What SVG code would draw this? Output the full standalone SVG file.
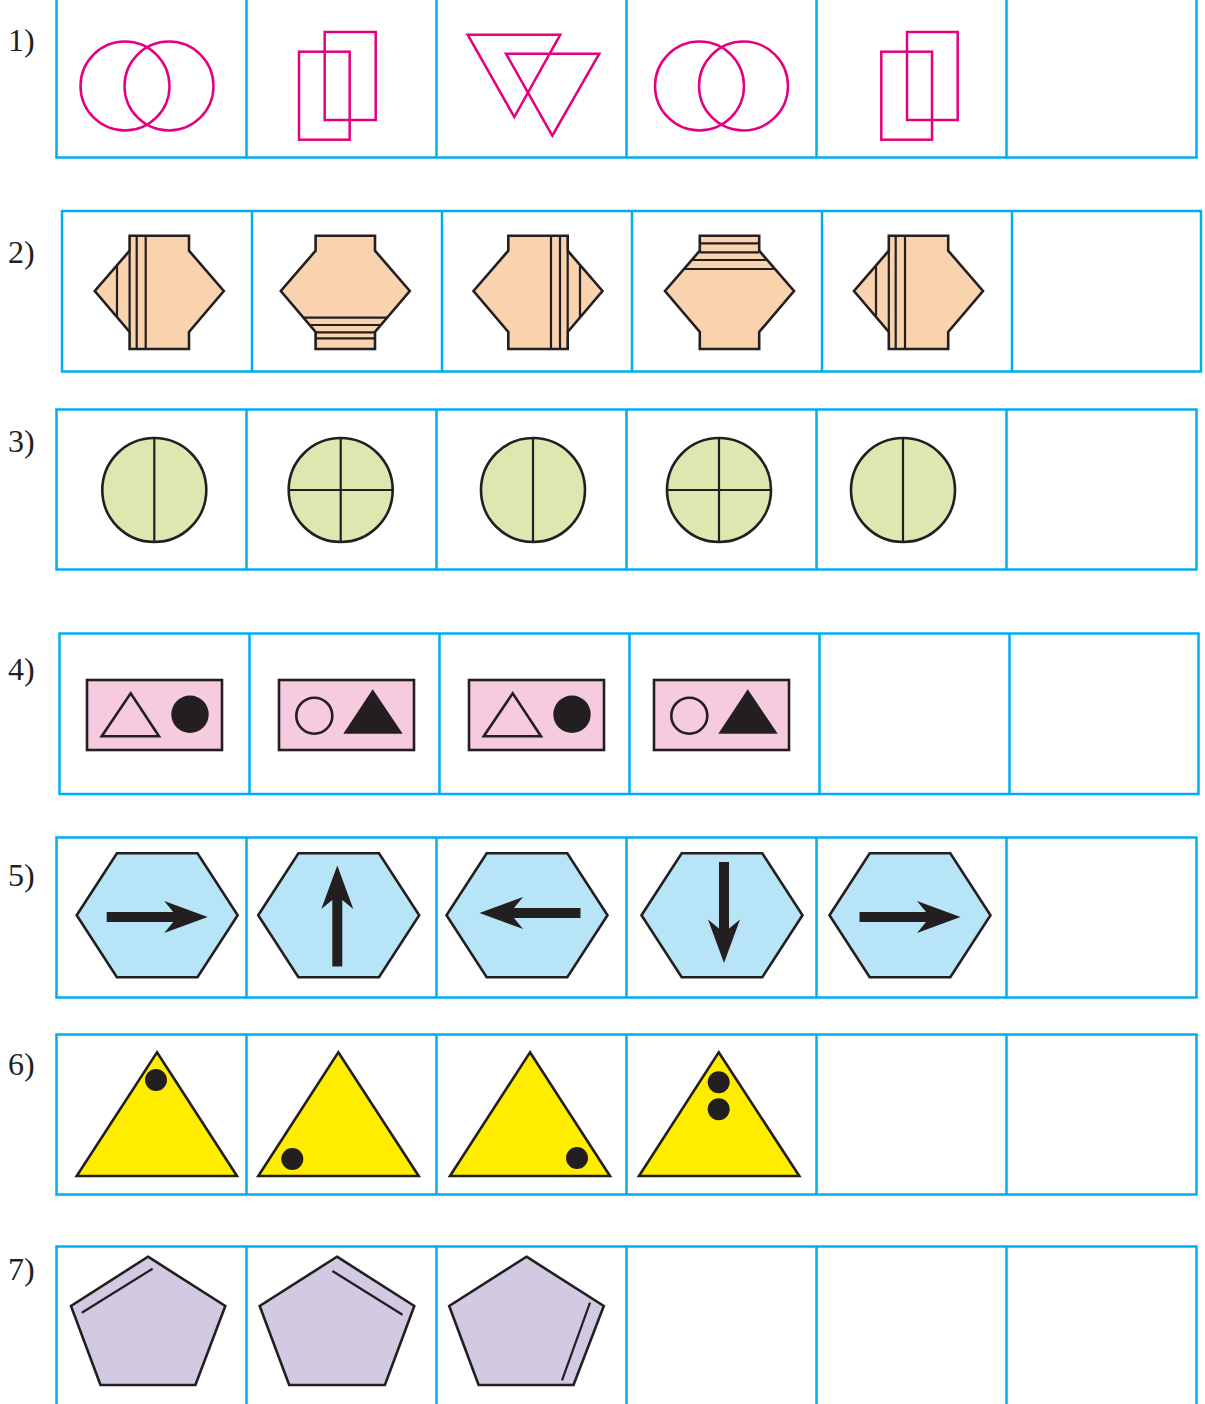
<svg xmlns="http://www.w3.org/2000/svg" xmlns:xlink="http://www.w3.org/1999/xlink" width="1205" height="1404" viewBox="0 0 1205 1404">
<style>
.grid{fill:none;stroke:#00aeef;stroke-width:2.5}
.lbl{font-family:"Liberation Serif","Times New Roman",serif;font-size:32px;fill:#231f20}
.mag{fill:none;stroke:#e5007d;stroke-width:2.5}
.ol{stroke:#231f20;stroke-width:2.6;stroke-linejoin:miter}
.ln{stroke:#231f20;stroke-width:2.2;fill:none}
.peach{fill:#f9d2ae}
.green{fill:#dce8b0}
.pink{fill:#f7cbdf}
.blue{fill:#b8e4f7}
.yellow{fill:#ffed00}
.lav{fill:#d2c9e2}
.blk{fill:#231f20}
</style>
<defs>
<path id="arrow" d="M-50.5,-5 H16 L7,-16 L50.5,0 L7,16 L16,5 H-50.5 Z" fill="#231f20"/>
<path id="vase" d="M-29.7,235.7 H29.7 V250.7 L64.5,291 L29.7,332 V349 H-29.7 V332 L-64.5,291 L-29.7,250.7 Z" class="peach ol"/>
<polygon id="hex" points="-80.5,0 -40.3,-62 40.3,-62 80.5,0 40.3,62 -40.3,62" class="blue ol"/>
</defs>

<g id="grids">
<g id="grid1" class="grid"><rect x="56.5" y="-5" width="1140" height="162.5"/><path d="M246.5,0V157.5M436.5,0V157.5M626.5,0V157.5M816.5,0V157.5M1006.5,0V157.5"/></g>
<g id="grid2" class="grid"><rect x="62" y="211" width="1139" height="160.5"/><path d="M252,211V371.5M442,211V371.5M632,211V371.5M822,211V371.5M1012,211V371.5"/></g>
<g id="grid3" class="grid"><rect x="56.5" y="409.5" width="1140" height="160"/><path d="M246.5,409.5V569.5M436.5,409.5V569.5M626.5,409.5V569.5M816.5,409.5V569.5M1006.5,409.5V569.5"/></g>
<g id="grid4" class="grid"><rect x="59.5" y="633.5" width="1139" height="160.5"/><path d="M249.5,633.5V794M439.5,633.5V794M629.5,633.5V794M819.5,633.5V794M1009.5,633.5V794"/></g>
<g id="grid5" class="grid"><rect x="56.5" y="837.5" width="1140" height="160"/><path d="M246.5,837.5V997.5M436.5,837.5V997.5M626.5,837.5V997.5M816.5,837.5V997.5M1006.5,837.5V997.5"/></g>
<g id="grid6" class="grid"><rect x="56.5" y="1034.5" width="1140" height="160"/><path d="M246.5,1034.5V1194.5M436.5,1034.5V1194.5M626.5,1034.5V1194.5M816.5,1034.5V1194.5M1006.5,1034.5V1194.5"/></g>
<g id="grid7" class="grid"><rect x="56.5" y="1246.5" width="1140" height="170"/><path d="M246.5,1246.5V1404M436.5,1246.5V1404M626.5,1246.5V1404M816.5,1246.5V1404M1006.5,1246.5V1404"/></g>
</g>

<g id="labels">
<text class="lbl" x="8" y="51">1)</text>
<text class="lbl" x="8" y="263">2)</text>
<text class="lbl" x="8" y="452">3)</text>
<text class="lbl" x="8" y="680">4)</text>
<text class="lbl" x="8" y="886">5)</text>
<text class="lbl" x="8" y="1075">6)</text>
<text class="lbl" x="8" y="1280">7)</text>
</g>

<g id="row1">
<g id="r1c1" class="mag"><circle cx="125" cy="86" r="44.5"/><circle cx="169" cy="86" r="44.5"/></g>
<g id="r1c2" class="mag"><rect x="324.7" y="32" width="51" height="88"/><rect x="299" y="51.7" width="50.7" height="88"/></g>
<g id="r1c3" class="mag"><polygon points="467.7,34.7 560.3,34.7 514.3,117"/><polygon points="506,53.7 599.3,53.7 552.3,135.7"/></g>
<g id="r1c4" class="mag"><circle cx="699.5" cy="86" r="44.5"/><circle cx="743.5" cy="86" r="44.5"/></g>
<g id="r1c5" class="mag"><rect x="907" y="32" width="50.7" height="88"/><rect x="881.3" y="51.7" width="50.7" height="88"/></g>
</g>

<g id="row2">
<g id="r2c1" transform="translate(159.3,0)"><use xlink:href="#vase"/>
<path class="ln" d="M-29.7,250.7V332M-22.6,235.7V349M-13.6,235.7V349M-42.3,265.3V317.2"/></g>
<g id="r2c2" transform="translate(345.3,0)"><use xlink:href="#vase"/>
<path class="ln" d="M-41.8,317.7H41.8M-35.6,325H35.6M-29.7,332.3H29.7M-29.7,338.3H29.7"/></g>
<g id="r2c3" transform="translate(538,0)"><use xlink:href="#vase"/>
<path class="ln" d="M29.7,250.7V332M22,235.7V349M13,235.7V349M42,265.3V317.2"/></g>
<g id="r2c4" transform="translate(729.5,0)"><use xlink:href="#vase"/>
<path class="ln" d="M-29.7,243.3H29.7M-29.7,252.3H29.7M-37.7,260H37.7M-45.5,269H45.5"/></g>
<g id="r2c5" transform="translate(918.5,0)"><use xlink:href="#vase"/>
<path class="ln" d="M-29.7,250.7V332M-22.8,235.7V349M-13.5,235.7V349M-42.5,265.3V317.2"/></g>
</g>

<g id="row3">
<g id="r3c1"><circle cx="154.3" cy="490" r="52" class="green ol"/><path class="ln" d="M154.3,438V542"/></g>
<g id="r3c2"><circle cx="340.7" cy="490" r="52" class="green ol"/><path class="ln" d="M340.7,438V542M288.7,490H392.7"/></g>
<g id="r3c3"><circle cx="533" cy="490" r="52" class="green ol"/><path class="ln" d="M533,438V542"/></g>
<g id="r3c4"><circle cx="719" cy="490" r="52" class="green ol"/><path class="ln" d="M719,438V542M667,490H771"/></g>
<g id="r3c5"><circle cx="903" cy="490" r="52" class="green ol"/><path class="ln" d="M903,438V542"/></g>
</g>

<g id="row4">
<g id="r4c1"><rect x="87" y="680" width="135" height="70" class="pink ol"/><polygon points="101.7,736.3 130.7,693.3 159,736.3" fill="none" class="ol"/><circle cx="190" cy="714.3" r="18.7" class="blk"/></g>
<g id="r4c2"><rect x="279" y="680" width="135" height="70" class="pink ol"/><circle cx="314.3" cy="715.7" r="18" fill="none" class="ol"/><polygon points="343.3,733.7 372.7,689.3 402.7,733.7" class="blk"/></g>
<g id="r4c3"><rect x="469" y="680" width="135" height="70" class="pink ol"/><polygon points="483.7,736.3 512.7,693.3 541,736.3" fill="none" class="ol"/><circle cx="572" cy="714.3" r="18.7" class="blk"/></g>
<g id="r4c4"><rect x="654" y="680" width="135" height="70" class="pink ol"/><circle cx="689.3" cy="715.7" r="18" fill="none" class="ol"/><polygon points="718.3,733.7 747.7,689.3 777.7,733.7" class="blk"/></g>
</g>

<g id="row5">
<g id="r5c1"><use xlink:href="#hex" transform="translate(157.2,915.3)"/><use xlink:href="#arrow" transform="translate(157.2,917)"/></g>
<g id="r5c2"><use xlink:href="#hex" transform="translate(338.7,915.3)"/><use xlink:href="#arrow" transform="translate(337.3,916) rotate(-90)"/></g>
<g id="r5c3"><use xlink:href="#hex" transform="translate(527,915.3)"/><use xlink:href="#arrow" transform="translate(530,913) rotate(180)"/></g>
<g id="r5c4"><use xlink:href="#hex" transform="translate(722,915.3)"/><use xlink:href="#arrow" transform="translate(724,912.5) rotate(90)"/></g>
<g id="r5c5"><use xlink:href="#hex" transform="translate(910,915.3)"/><use xlink:href="#arrow" transform="translate(910,917)"/></g>
</g>

<g id="row6">
<g id="r6c1"><polygon points="157,1052.3 237,1176 76.7,1176" class="yellow ol"/><circle cx="156" cy="1080" r="11" class="blk"/></g>
<g id="r6c2"><polygon points="338.3,1052.3 418.7,1176 258.3,1176" class="yellow ol"/><circle cx="292.3" cy="1159" r="11" class="blk"/></g>
<g id="r6c3"><polygon points="530,1052.3 610,1176 450,1176" class="yellow ol"/><circle cx="577" cy="1158" r="11" class="blk"/></g>
<g id="r6c4"><polygon points="718.7,1052.3 799.3,1176 639,1176" class="yellow ol"/><circle cx="718.7" cy="1082.3" r="11" class="blk"/><circle cx="718.7" cy="1109.3" r="11" class="blk"/></g>
</g>

<g id="row7">
<g id="r7c1"><polygon points="148,1256.7 225.3,1306 195.4,1385 100.5,1385 71,1306" class="lav ol"/><path class="ln" d="M81.8,1312.7L152.6,1268.7"/></g>
<g id="r7c2"><polygon points="337,1256.7 414.3,1306 384.9,1385 289.2,1385 259.7,1306" class="lav ol"/><path class="ln" d="M332.4,1271L402.5,1314.7"/></g>
<g id="r7c3"><polygon points="526.5,1256.7 603.8,1306 573.5,1385 478.6,1385 449.2,1306" class="lav ol"/><path class="ln" d="M590,1302.7L562,1380.3"/></g>
</g>
</svg>
